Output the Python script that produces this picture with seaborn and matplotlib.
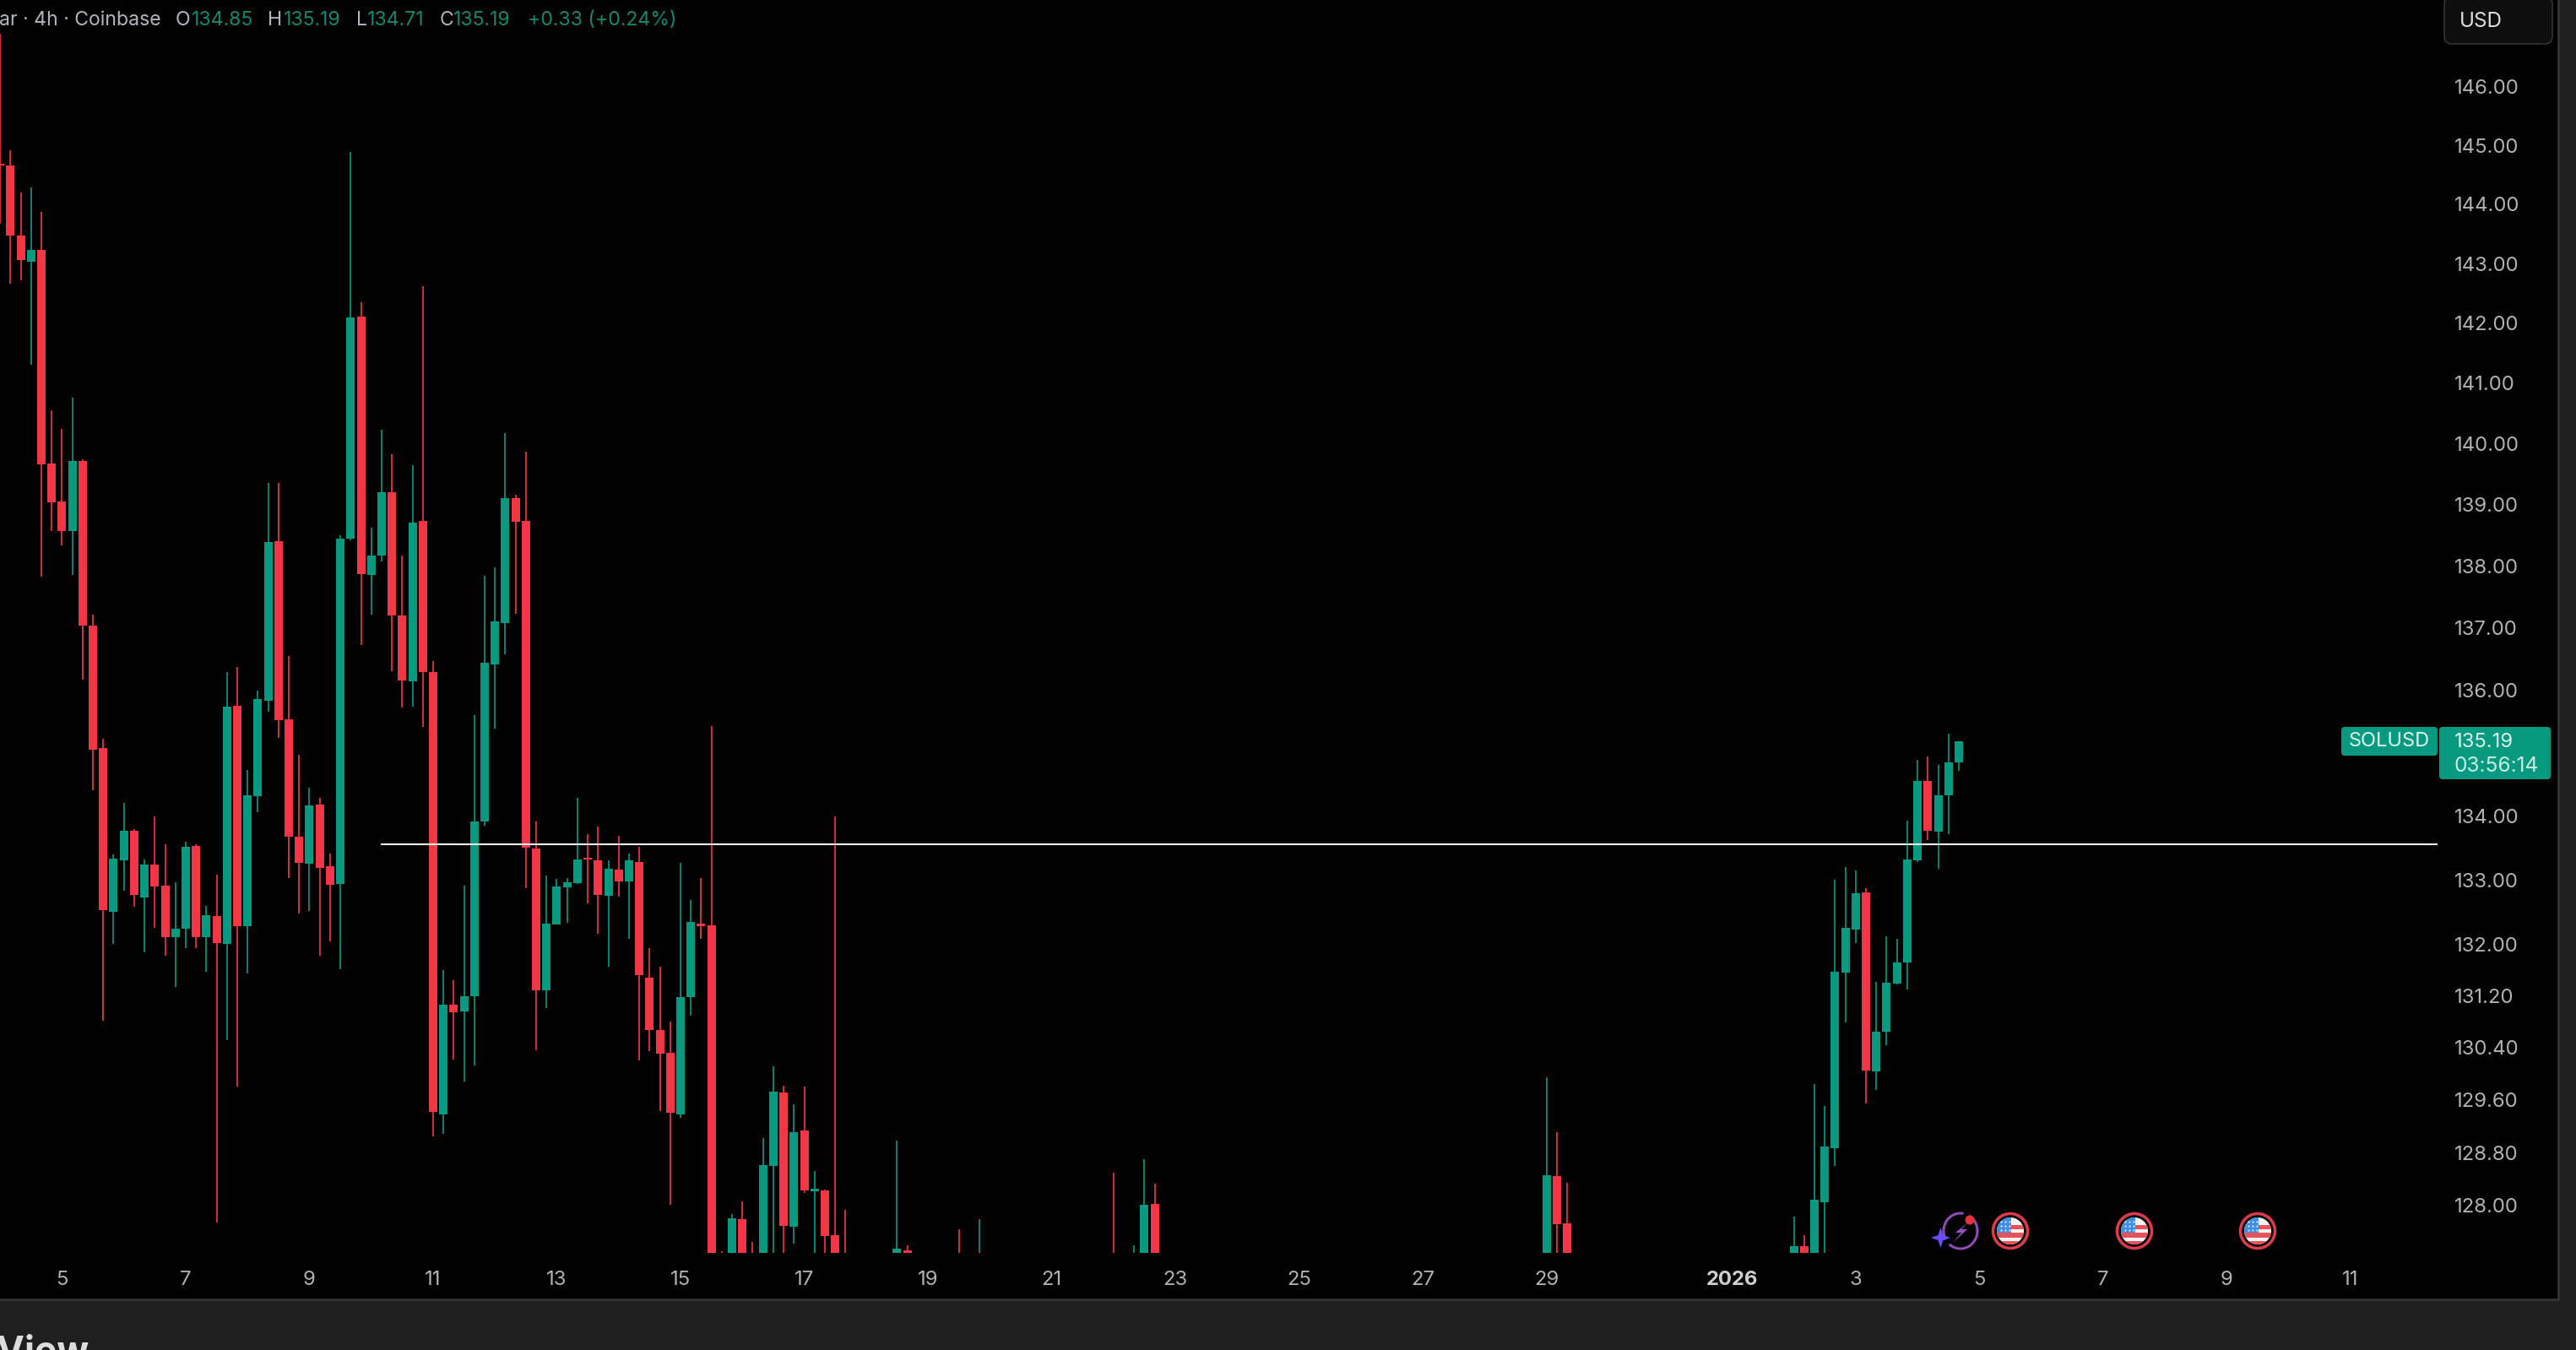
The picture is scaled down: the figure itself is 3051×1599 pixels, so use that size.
import matplotlib
matplotlib.use("Agg")
import matplotlib.pyplot as plt
from matplotlib.patches import Rectangle, Circle, FancyBboxPatch, Polygon, Arc
from matplotlib.ticker import NullLocator
import pandas as pd
import seaborn as sns

# 4h bars, numbered from the left edge. bars below the visible range are left out
bars = list(range(0, 83)) + [87, 88, 93, 95, 108, 110, 111, 112, 150, 151, 152] + list(range(174, 191))

opens = [
    144.69, 144.66, 143.47, 143.03, 143.23, 139.68, 139.05, 138.57, 139.71, 137.03,
    135.08, 132.50, 133.31, 133.77, 132.73, 133.24, 132.91, 132.11, 132.24, 133.53,
    132.11, 132.44, 132.00, 135.75, 132.28, 134.32, 135.83, 138.41, 135.54, 133.67,
    133.25, 134.18, 133.21, 132.94, 138.44, 142.11, 137.86, 138.17, 139.20, 137.20,
    136.14, 138.74, 136.29, 129.38, 131.06, 130.96, 131.19, 133.92, 136.41, 137.08,
    139.10, 138.74, 133.49, 131.28, 132.30, 132.88, 132.95, 133.35, 133.31, 132.75,
    133.16, 132.98, 133.28, 131.48, 130.67, 130.32, 129.38, 131.18, 132.32, 132.29,
    127.10, 127.00, 127.80, 127.10, 127.00, 128.60, 129.72, 127.68, 129.14, 128.22,
    128.23, 127.55, 127.10,
    127.00, 127.33, 127.10, 127.00, 127.10, 127.00, 127.00, 128.03, 127.00, 128.45, 127.73,
    127.00, 127.39, 127.00, 128.05, 128.87, 131.56, 132.23, 132.80, 130.04, 130.64,
    131.39, 131.71, 133.31, 134.56, 133.76, 134.33, 134.85,
]
highs = [
    146.92, 144.92, 144.20, 144.29, 143.87, 140.55, 140.25, 140.76, 139.75, 137.22,
    135.23, 133.40, 134.21, 133.80, 133.32, 134.00, 133.56, 132.96, 133.60, 133.56,
    132.59, 133.08, 136.29, 136.37, 134.73, 135.99, 139.36, 139.35, 136.55, 134.97,
    134.45, 134.29, 133.41, 138.50, 144.89, 142.35, 138.63, 140.23, 139.83, 138.17,
    139.64, 142.62, 136.47, 131.60, 131.44, 132.91, 135.60, 137.84, 137.98, 140.17,
    139.16, 139.87, 133.92, 133.07, 133.02, 133.03, 134.29, 133.72, 133.84, 133.31,
    133.69, 133.41, 133.52, 131.93, 131.65, 130.80, 133.27, 132.69, 133.03, 135.43,
    127.31, 127.87, 128.06, 127.45, 129.02, 130.12, 129.82, 129.54, 129.81, 128.52,
    128.24, 134.00, 127.93,
    128.98, 127.40, 127.65, 127.80, 128.50, 127.40, 128.70, 128.33, 129.95, 129.11, 128.34,
    127.83, 127.56, 129.84, 129.51, 133.00, 133.20, 133.15, 132.87, 131.41, 132.12,
    132.08, 133.93, 134.89, 134.95, 134.81, 135.31, 135.19,
]
lows = [
    143.67, 142.66, 142.71, 141.30, 137.83, 138.57, 138.34, 137.86, 136.17, 134.41,
    130.82, 132.00, 132.83, 132.58, 131.87, 132.25, 131.82, 131.34, 131.94, 131.94,
    131.57, 127.75, 130.52, 129.81, 131.54, 134.06, 135.66, 135.24, 133.03, 132.47,
    132.52, 131.82, 132.04, 131.61, 138.42, 136.73, 137.22, 138.08, 136.31, 135.72,
    135.74, 135.42, 129.05, 129.09, 130.22, 129.88, 130.13, 133.85, 135.39, 136.58,
    137.23, 132.87, 130.36, 131.01, 132.30, 132.33, 132.94, 132.63, 132.16, 131.65,
    132.74, 132.08, 130.21, 130.35, 129.43, 128.01, 129.33, 130.89, 132.08, 126.90,
    126.90, 126.90, 126.90, 126.90, 126.90, 126.90, 127.00, 127.43, 128.19, 127.00,
    127.00, 126.90, 126.90,
    126.90, 126.90, 126.90, 126.90, 126.90, 126.90, 126.90, 126.90, 126.90, 126.90, 126.90,
    126.90, 126.90, 126.90, 127.00, 128.60, 130.79, 132.02, 129.55, 129.75, 130.44,
    131.38, 131.30, 133.28, 133.62, 133.17, 133.72, 134.71,
]
closes = [
    144.66, 143.47, 143.06, 143.23, 139.66, 139.04, 138.57, 139.71, 137.03, 135.05,
    132.53, 133.33, 133.77, 132.77, 133.24, 132.90, 132.11, 132.24, 133.52, 132.11,
    132.45, 132.02, 135.74, 132.28, 134.33, 135.86, 138.39, 135.52, 133.67, 133.27,
    134.17, 133.19, 132.92, 138.44, 142.10, 137.87, 138.17, 139.20, 137.20, 136.16,
    138.70, 136.29, 129.42, 131.06, 130.94, 131.19, 133.92, 136.44, 137.11, 139.10,
    138.72, 133.51, 131.28, 132.32, 132.90, 132.96, 133.32, 133.32, 132.77, 133.17,
    132.98, 133.31, 131.52, 130.67, 130.31, 129.41, 131.18, 132.34, 132.28, 127.00,
    127.05, 127.81, 127.00, 127.05, 128.61, 129.73, 127.69, 129.11, 128.23, 128.25,
    127.54, 127.00, 127.05,
    127.35, 127.00, 127.05, 127.05, 127.05, 127.05, 128.01, 127.00, 128.46, 127.72, 127.00,
    127.39, 127.00, 128.09, 128.89, 131.57, 132.25, 132.79, 130.05, 130.65, 131.40,
    131.71, 133.32, 134.56, 133.77, 134.33, 134.85, 135.19,
]

level_price = 133.56
level_start_bar = 36.9
# no 135.00 label: the last price tag hides it
price_ticks = [146, 145, 144, 143, 142, 141, 140, 139, 138, 137, 136, 134, 133, 132, 131.2, 130.4, 129.6, 128.8, 128]
date_bars = [6, 18, 30, 42, 54, 66, 78, 90, 102, 114, 126, 138, 150, 168, 180, 192, 204, 216, 228]
date_labels = ['5', '7', '9', '11', '13', '15', '17', '19', '21', '23', '25', '27', '29',
               '2026', '3', '5', '7', '9', '11']
GREEN = '#089981'
RED = '#F23645'
TICK_COL = '#b2b2b2'

W, H = 3051, 1599
PLOT_R, PLOT_B = 2887, 1484

sns.set_theme(style='dark', rc={'axes.facecolor': 'black', 'figure.facecolor': '#1f1f1f'})
plt.rcParams['font.family'] = ['Inter', 'DejaVu Sans']

df = pd.DataFrame({'bar': bars, 'open': opens, 'high': highs, 'low': lows, 'close': closes})
df['side'] = ['up' if c >= o else 'down' for o, c in zip(df['open'], df['close'])]
wicks = df.melt(id_vars=['bar', 'side'], value_vars=['low', 'high'], value_name='price')
bodies = df.melt(id_vars=['bar', 'side'], value_vars=['open', 'close'], value_name='price')
palette = {'up': GREEN, 'down': RED}

fig = plt.figure(figsize=(W / 100, H / 100), dpi=100)

# black panel and frame behind everything
bg = fig.add_axes([0, 0, 1, 1], zorder=-1)
bg.set_xlim(0, W)
bg.set_ylim(H, 0)
bg.axis('off')
bg.add_patch(Rectangle((-10, -10), 3040, 1549, fc='black', ec='#333333', lw=2))

ax = fig.add_axes([0, 1 - PLOT_B / H, PLOT_R / W, PLOT_B / H], zorder=1)
ax.set_yscale('log')
sns.lineplot(data=wicks, x='bar', y='price', hue='side', units='bar', estimator=None, palette=palette,
             lw=1.45, alpha=0.85, solid_capstyle='butt', legend=False, ax=ax)
sns.lineplot(data=bodies, x='bar', y='price', hue='side', units='bar', estimator=None, palette=palette,
             lw=7.2, solid_capstyle='butt', legend=False, ax=ax)
ax.set_xlim(-0.016, PLOT_R / 12.21)
ax.set_ylim(127.29, 147.50)
ax.hlines(level_price, level_start_bar, PLOT_R / 12.21, color='#f0f0f0', lw=1.5, zorder=5)

ax.set_yticks(price_ticks, labels=[f'{p:.2f}' for p in price_ticks])
ax.set_xticks(date_bars, labels=date_labels)
ax.yaxis.set_minor_locator(NullLocator())
ax.yaxis.tick_right()
ax.tick_params(axis='y', length=0, pad=14.4, labelsize=17.2, labelcolor=TICK_COL)
ax.tick_params(axis='x', length=0, pad=15, labelsize=17.2, labelcolor=TICK_COL)
for lab in ax.get_xticklabels():
    if lab.get_text() == '2026':
        lab.set_fontweight('bold')
        lab.set_color('#d0d0d0')
ax.set_xlabel('')
ax.set_ylabel('')
ax.grid(False)
sns.despine(ax=ax, left=True, bottom=True)

# overlay in picture pixels: header, price tags, event icons
top = fig.add_axes([0, 0, 1, 1], zorder=5)
top.set_xlim(0, W)
top.set_ylim(H, 0)
top.axis('off')

HEAD_GREY = '#b2b5be'
HEAD_GREEN = '#16876f'
header = [(-1, 'ar · 4h · Coinbase', HEAD_GREY), (208, 'O', HEAD_GREY), (227, '134.85', HEAD_GREEN),
          (317, 'H', HEAD_GREY), (336, '135.19', HEAD_GREEN), (422, 'L', HEAD_GREY),
          (435, '134.71', HEAD_GREEN), (521, 'C', HEAD_GREY), (537, '135.19', HEAD_GREEN),
          (625, '+0.33 (+0.24%)', HEAD_GREEN)]
for x, txt, col in header:
    top.text(x, 24, txt, color=col, fontsize=16.6, ha='left', va='center')

top.add_patch(FancyBboxPatch((2895, -4), 128, 56, boxstyle='round,pad=0,rounding_size=9',
                             fc='#0e0e0e', ec='#333333', lw=1.2))
top.text(2913, 26, 'USD', color='#dddddd', fontsize=17.5, ha='left', va='center')

top.add_patch(FancyBboxPatch((2773, 861), 114, 34, boxstyle='round,pad=0,rounding_size=4', fc=GREEN, ec='none'))
top.add_patch(FancyBboxPatch((2889, 861), 132, 62, boxstyle='round,pad=0,rounding_size=4', fc=GREEN, ec='none'))
top.text(2830, 878, 'SOLUSD', color='#d9f5ec', fontsize=17, ha='center', va='center')
top.text(2907, 879, '135.19', color='#d9f5ec', fontsize=17.2, ha='left', va='center')
top.text(2906, 908, '03:56:14', color='#c4eee2', fontsize=17.6, ha='left', va='center')

top.text(105, 1582, 'wView', color='#dcdcdc', fontsize=32, fontweight='bold', ha='right', va='top')


def flag_icon(cx, cy):
    top.add_patch(Circle((cx, cy), 20.5, fc='black', ec='#d93a4c', lw=2.6))
    face = Circle((cx, cy), 16, fc='#f3f3f3', ec='none')
    top.add_patch(face)
    parts = [Rectangle((cx - 16, cy - 7), 32, 5, fc='#e8525a', ec='none'),
             Rectangle((cx - 16, cy + 2), 32, 6, fc='#e8525a', ec='none'),
             Rectangle((cx - 16, cy + 12), 32, 6, fc='#e8525a', ec='none'),
             Rectangle((cx - 16, cy - 17), 17, 19, fc='#3f8fe6', ec='none')]
    for p in parts:
        top.add_patch(p)
        p.set_clip_path(face)
    for dx in (-11, -6, -1):
        for dy in (-11, -6, -1):
            top.plot(cx + dx, cy + dy, 's', ms=1.3, color='white', mew=0)


for cx in (2381, 2528, 2674):
    flag_icon(cx, 1458)

# lightning event icon
top.add_patch(Arc((2322, 1458), 40, 42, theta1=-60, theta2=130, color='#8f4bb5', lw=2.2))
top.add_patch(Arc((2322, 1458), 40, 42, theta1=150, theta2=280, color='#8f4bb5', lw=2.2))
top.add_patch(Polygon([(2332, 1447), (2316, 1460), (2323, 1460), (2313, 1472), (2330, 1456), (2323, 1456)],
                      fc='#9a4fc4', ec='none'))
top.add_patch(Circle((2333, 1445), 5.5, fc='#e8303f', ec='none'))
top.add_patch(Polygon([(2298.5, 1454), (2301.5, 1463), (2310, 1466), (2301.5, 1469), (2298.5, 1478),
                       (2295.5, 1469), (2287, 1466), (2295.5, 1463)], fc='#6a4cff', ec='none'))

fig.savefig('out.png', dpi=100, facecolor=fig.get_facecolor())
